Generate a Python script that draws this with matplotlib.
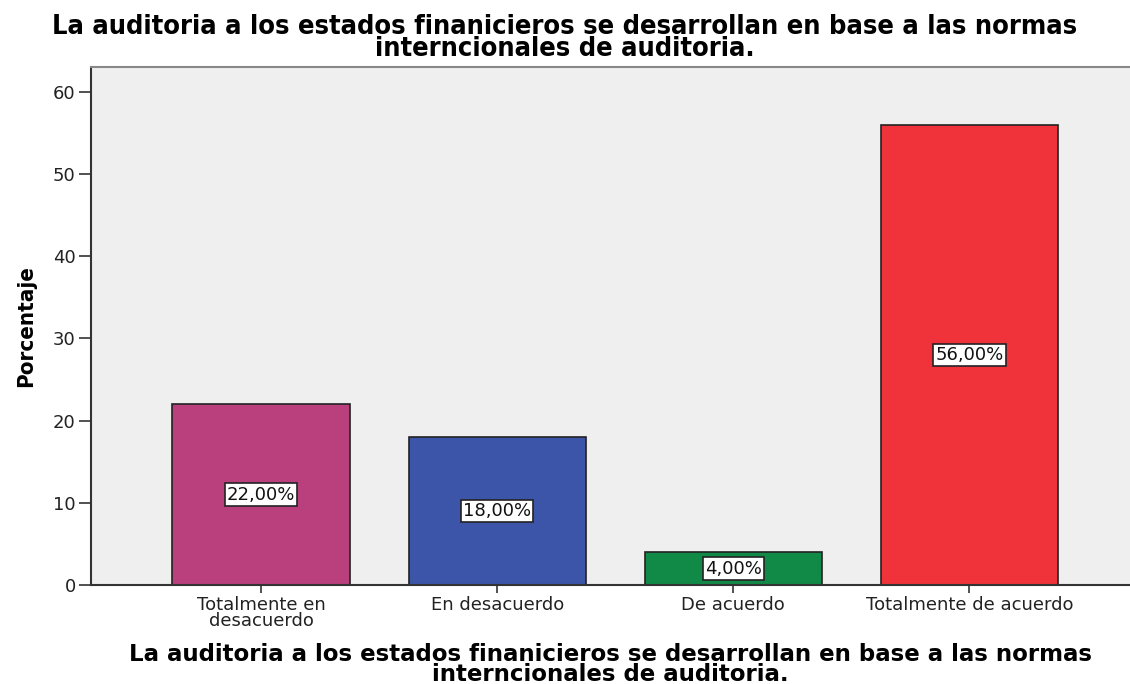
import matplotlib
matplotlib.use("Agg")
import matplotlib.pyplot as plt

categories = ["Totalmente en\ndesacuerdo", "En desacuerdo", "De acuerdo", "Totalmente de acuerdo"]
values = [22.0, 18.0, 4.0, 56.0]
colors = ["#b9407c", "#3d55a8", "#128a47", "#f0323a"]
title = "La auditoria a los estados finanicieros se desarrollan en base a las normas\ninterncionales de auditoria."

fig = plt.figure(figsize=(11.3, 6.84), dpi=100)
ax = fig.add_axes([0.0805, 0.1447, 0.9195, 0.7573])
ax.set_facecolor("#efefef")

x = range(len(categories))
ax.bar(x, values, width=0.75, color=colors, edgecolor="#222222", linewidth=1.2, zorder=2)

for i, v in zip(x, values):
    ax.text(i, v / 2, f"{v:.2f}%".replace(".", ","), ha="center", va="center", fontsize=13,
            color="#111111",
            bbox=dict(boxstyle="square,pad=0.12", fc="white", ec="#222222", lw=1.2), zorder=3)

ax.set_xlim(-0.72, 3.68)
ax.set_ylim(0, 63)
ax.set_yticks([0, 10, 20, 30, 40, 50, 60])
ax.set_xticks(list(x))
ax.set_xticklabels(categories, fontsize=13, linespacing=0.85, color="#222222")
ax.tick_params(axis="y", labelsize=13, labelcolor="#222222", length=9, width=1.2, color="#333333", pad=2)
ax.tick_params(axis="x", length=6, width=1.2, color="#333333", pad=2)

for s in ["left", "bottom"]:
    ax.spines[s].set_color("#333333")
    ax.spines[s].set_linewidth(1.5)
ax.spines["top"].set_color("#888888")
ax.spines["top"].set_linewidth(1.5)
ax.spines["right"].set_visible(False)

ax.set_ylabel("Porcentaje", fontstretch="condensed", fontweight="bold", fontsize=16, labelpad=12)
# x-axis title centred under the plot area, like the original
fig.text(0.54, 1 - 643 / 684, title, ha="center", va="top", fontweight="bold",
         fontsize=16.5, linespacing=0.82)
fig.text(0.5, 1 - 14 / 684, title, ha="center", va="top", fontstretch="condensed", fontweight="bold",
         fontsize=19.5, linespacing=0.82)

fig.savefig("out.png", dpi=100)
